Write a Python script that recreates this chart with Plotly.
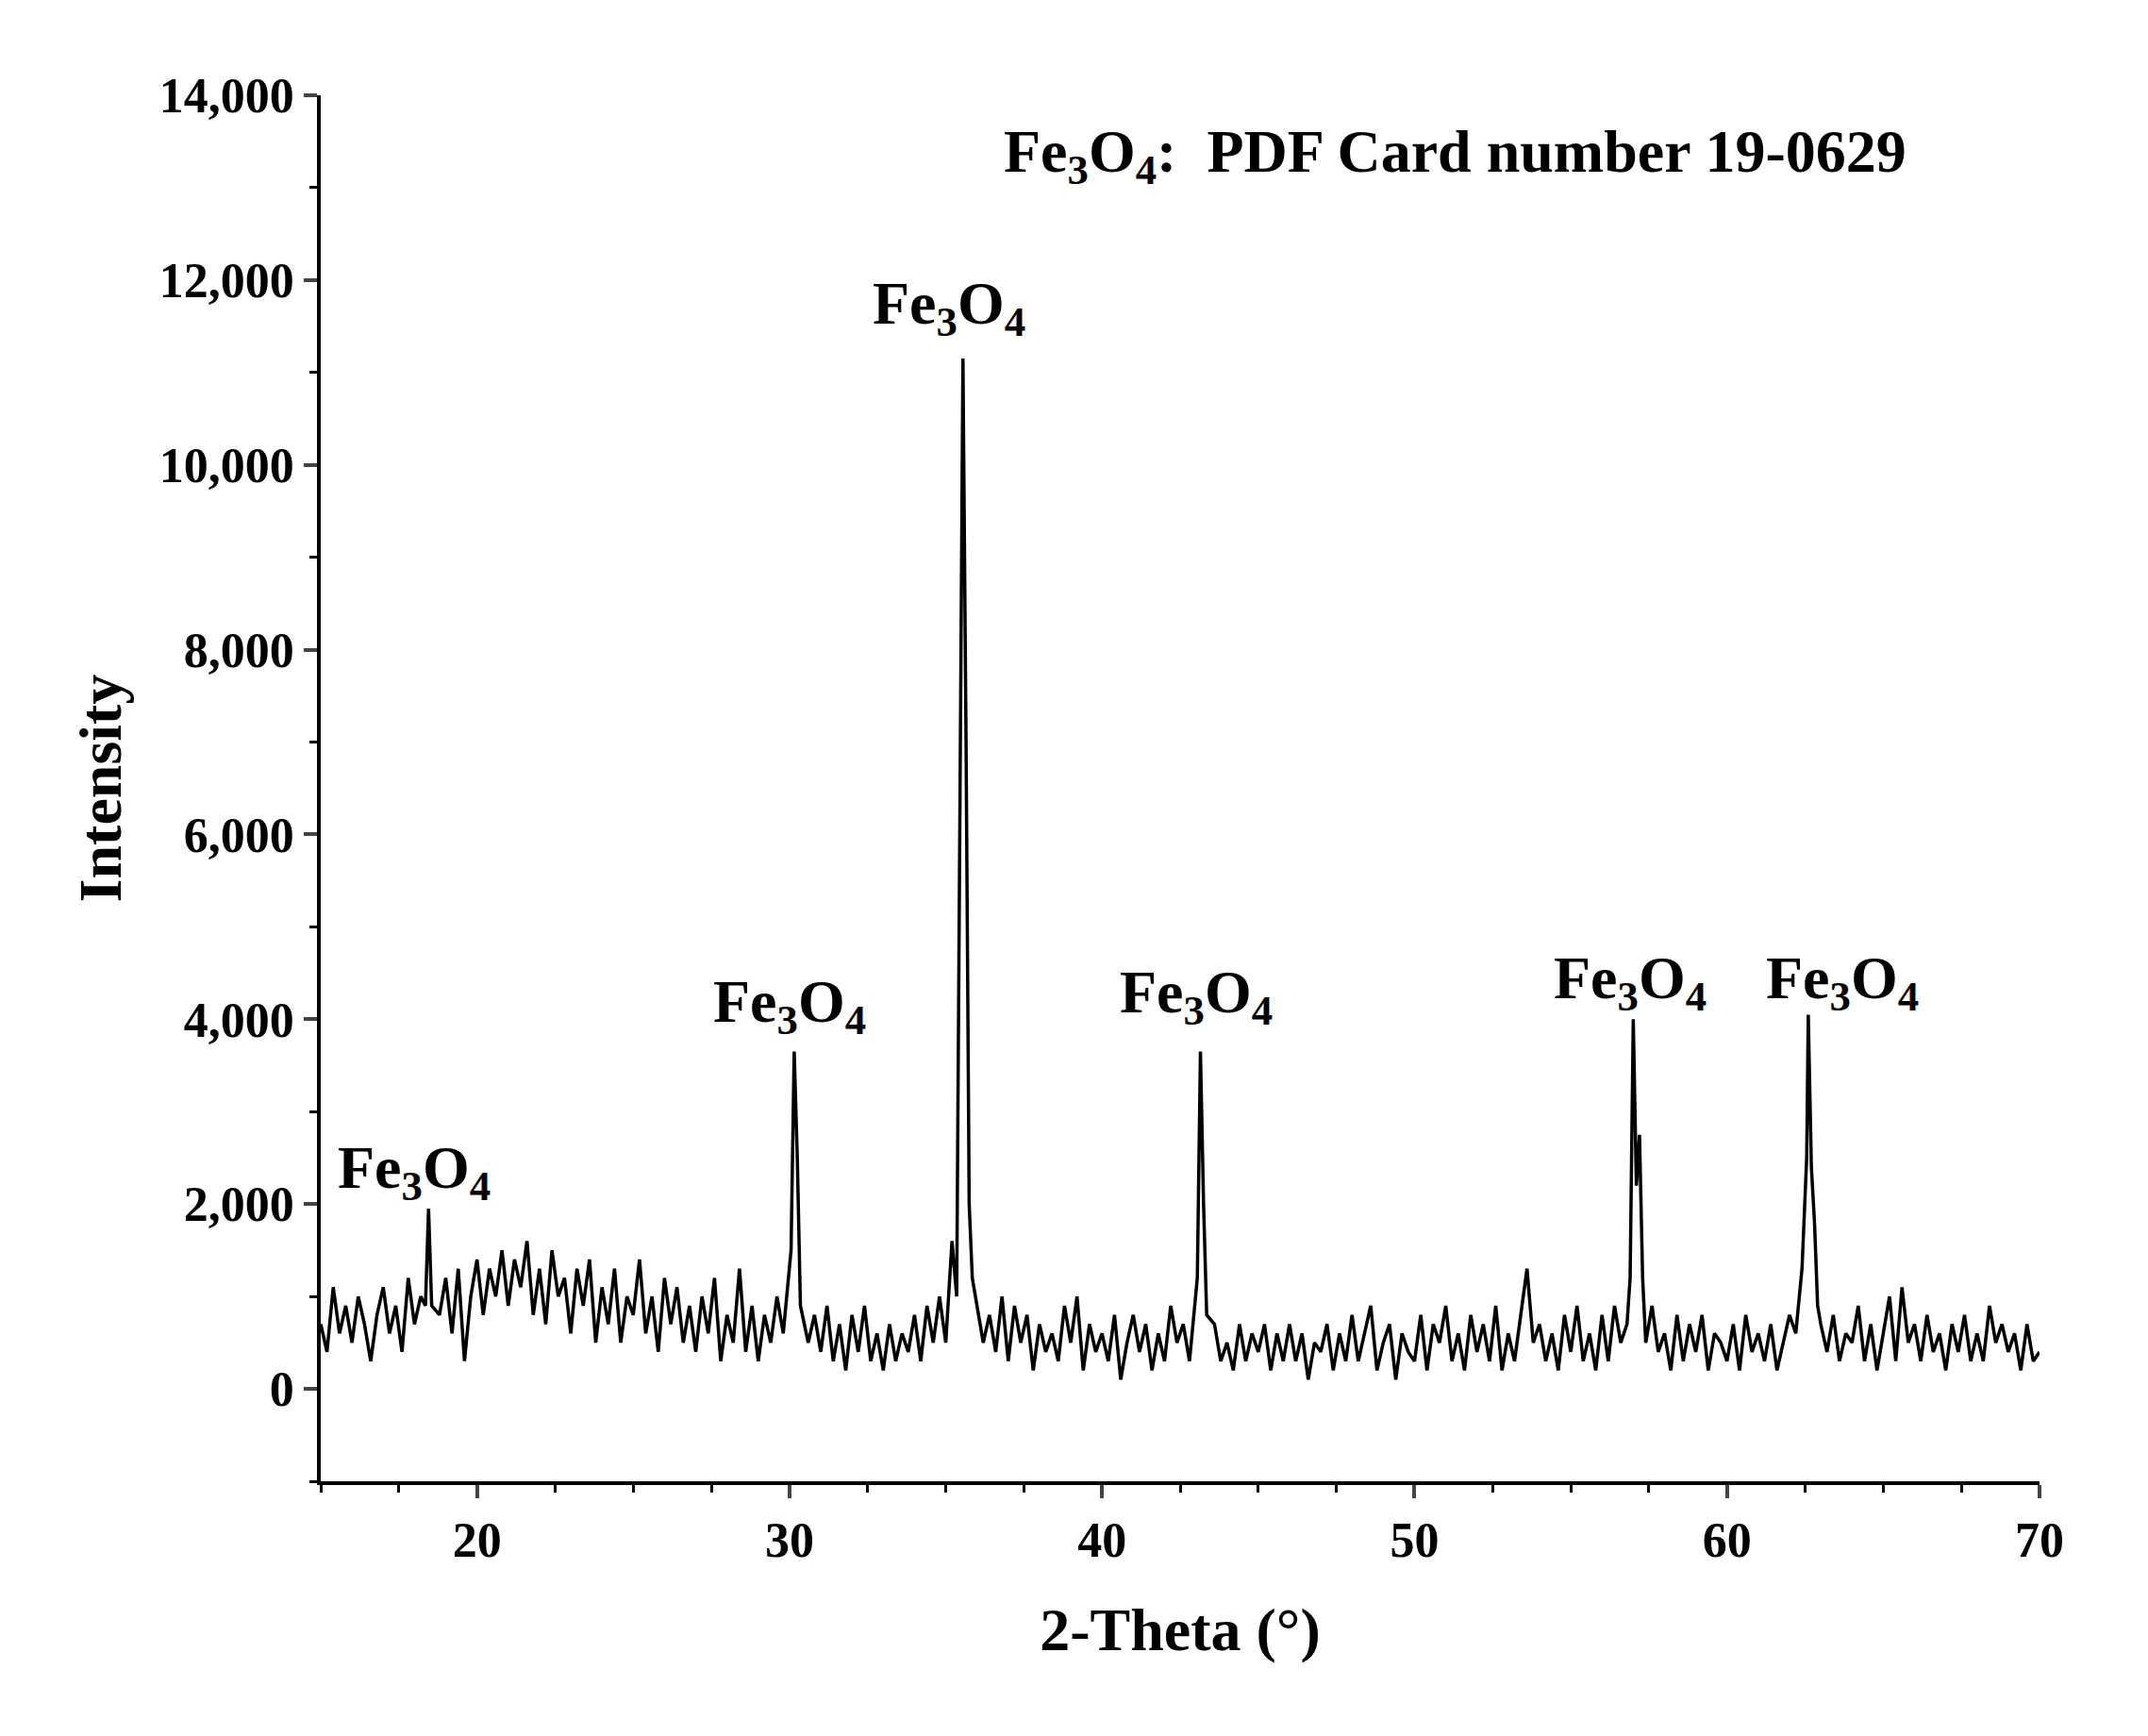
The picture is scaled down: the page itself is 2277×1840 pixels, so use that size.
import plotly.graph_objects as go

# Baseline intensities, hand-read every 0.2 deg from 15.0 to 70.0
baseline_start = 15.0
baseline_step = 0.2
baseline_y = [
    700, 400, 1100, 600, 900,   500, 1000, 700, 300, 800,
    1100, 600, 900, 400, 1200,  700, 1000, 500, 1100, 800,
    1200, 600, 1300, 300, 1000, 1400, 800, 1300, 1000, 1500,
    900, 1400, 1100, 1600, 800, 1300, 700, 1500, 1000, 1200,
    600, 1300, 900, 1400, 500,  1100, 700, 1300, 500, 1000,
    800, 1400, 600, 1000, 400,  1200, 700, 1100, 500, 900,
    400, 1000, 600, 1200, 300,  800, 500, 1300, 400, 900,
    300, 800, 500, 1000, 600,   700, 800, 1200, 500, 800,
    400, 900, 300, 700, 200,    800, 400, 900, 300, 600,
    200, 700, 300, 600, 400,    800, 300, 900, 500, 1000,
    500, 900, 600, 800, 700,    900, 500, 800, 400, 1000,
    300, 900, 500, 800, 200,    700, 400, 600, 300, 900,
    500, 1000, 200, 700, 400,   600, 300, 800, 100, 500,
    800, 400, 700, 200, 600,    300, 900, 500, 700, 300,
    600, 800, 400, 700, 300,    500, 200, 700, 300, 600,
    400, 700, 200, 600, 300,    700, 300, 600, 100, 500,
    400, 700, 200, 600, 300,    800, 300, 600, 900, 200,
    500, 700, 100, 600, 400,    300, 800, 200, 700, 500,
    900, 300, 600, 200, 800,    400, 700, 300, 900, 200,
    600, 300, 800, 1300, 500,   700, 300, 600, 200, 800,
    400, 900, 300, 600, 200,    800, 300, 900, 500, 700,
    700, 600, 500, 900, 400,    600, 200, 800, 300, 700,
    400, 800, 200, 600, 500,    300, 700, 200, 800, 400,
    600, 300, 700, 200, 500,    800, 600, 900, 500, 1000,
    700, 400, 800, 300, 600,    500, 900, 300, 700, 200,
    600, 1000, 300, 1100, 500,  700, 300, 800, 400, 600,
    200, 700, 400, 800, 300,    600, 300, 900, 500, 700,
    400, 600, 200, 700, 300,    400,
]

# Diffraction peaks, hand-read (2-theta, intensity)
peak_x = [18.35, 18.45, 18.55,
          30.05, 30.15, 30.25, 30.35,
          35.2, 35.35, 35.45, 35.55, 35.65, 35.75, 35.85,
          43.05, 43.15, 43.25, 43.35,
          56.9, 57.0, 57.1, 57.2, 57.3,
          62.4, 62.55, 62.6, 62.7, 62.8, 62.9]
peak_y = [900, 1950, 900,
          1500, 3650, 2500, 900,
          1600, 1000, 6000, 11150, 7000, 2000, 1200,
          1200, 3650, 2000, 800,
          1200, 4000, 2200, 2750, 1200,
          1300, 2500, 4050, 2400, 1800, 900]

peak_windows = [(18.3, 18.6), (30.0, 30.4), (35.15, 35.9), (43.0, 43.4), (56.85, 57.35), (62.35, 62.95)]

label_x = [18.0, 30.0, 35.1, 43.0, 56.9, 63.7]
label_y = [2350, 4150, 11700, 4250, 4400, 4400]
label_x[5] = 63.7
label_text = "Fe<sub>3</sub>O<sub>4</sub>"

bx = [round(baseline_start + i * baseline_step, 2) for i in range(len(baseline_y))]
pts = [(x, y) for x, y in zip(bx, baseline_y)
       if not any(a <= x <= b for a, b in peak_windows)]
pts += list(zip(peak_x, peak_y))
pts.sort()
xs = [p[0] for p in pts]
ys = [p[1] for p in pts]

font = "Liberation Serif"
fig = go.Figure(go.Scatter(x=xs, y=ys, mode="lines", line=dict(color="black", width=3.5)))

for x, y in zip(label_x, label_y):
    fig.add_annotation(x=x, y=y, text="<b>" + label_text + "</b>", showarrow=False,
                       font=dict(family=font, size=64, color="black"))
fig.add_annotation(x=51.3, y=13350, text="<b>Fe<sub>3</sub>O<sub>4</sub>:  PDF Card number 19-0629</b>",
                   showarrow=False, font=dict(family=font, size=64, color="black"))

fig.update_layout(
    width=2277, height=1840, plot_bgcolor="white", paper_bgcolor="white",
    margin=dict(l=332, r=123, t=93, b=278), showlegend=False,
    font=dict(family=font, color="black"),
)
fig.update_xaxes(range=[15, 70], tickvals=[20, 30, 40, 50, 60, 70], showgrid=False, zeroline=False,
                 showline=True, linecolor="black", linewidth=3.5, ticks="outside", ticklen=14, tickwidth=3.5,
                 tickfont=dict(family=font, size=52, color="black", weight="bold"),
                 minor=dict(dtick=2.5, tick0=15, ticks="outside", ticklen=8, tickwidth=3, tickcolor="black"),
                 title=dict(text="<b>2-Theta (°)</b>", font=dict(family=font, size=64, color="black"), standoff=45))
fig.update_yaxes(range=[-1000, 14000], tickvals=list(range(0, 14001, 2000)), tickformat=",d",
                 showgrid=False, zeroline=False,
                 showline=True, linecolor="black", linewidth=3.5, ticks="outside", ticklen=14, tickwidth=3.5,
                 tickfont=dict(family=font, size=52, color="black", weight="bold"),
                 minor=dict(dtick=1000, ticks="outside", ticklen=8, tickwidth=3, tickcolor="black"),
                 title=dict(text="<b>Intensity</b>", font=dict(family=font, size=64, color="black"), standoff=20))

fig.write_html("out.html")
